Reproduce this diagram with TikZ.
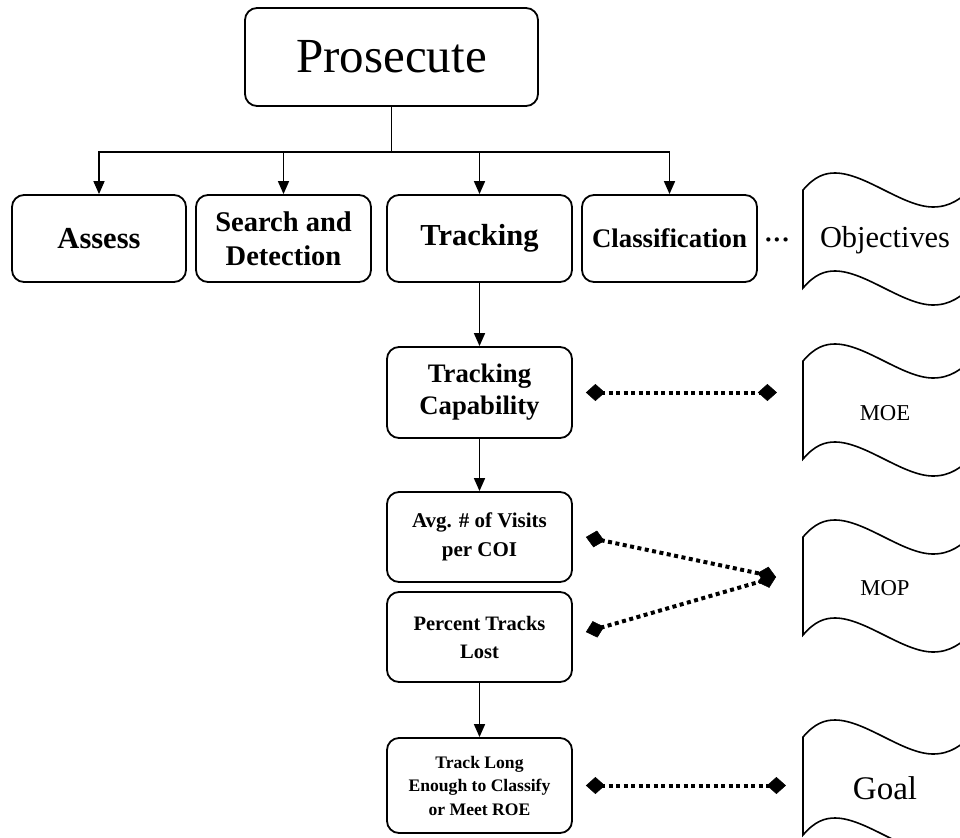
\documentclass[tikz,border=0pt]{standalone}
\usepackage{fontspec}
\setmainfont{Liberation Serif}
\usetikzlibrary{arrows.meta,calc}
\tikzset{
  box/.style={draw,line width=1.8pt,rounded corners=12pt,align=center,inner sep=0pt},
  arr/.style={line width=1.6pt,-{Triangle[length=13pt,width=11pt]}},
  ln/.style={line width=1.6pt},
  dotc/.style={line width=4pt,dash pattern=on 4pt off 3.5pt,
     {Diamond[length=19pt,width=17pt,line width=0.5pt]}-{Diamond[length=19pt,width=17pt,line width=0.5pt]}},
  tape/.pic={
    \draw[line width=1.6pt,fill=white] (0,0) .. controls (12,-14) and (22,-17) .. (32,-17)
      .. controls (62,-17) and (100,17) .. (130,17)
      .. controls (148,17) and (158,8) .. (170,-2) -- (170,96)
      .. controls (158,106) and (148,115) .. (130,115)
      .. controls (100,115) and (62,81) .. (32,81)
      .. controls (22,81) and (12,84) .. (0,98) -- cycle;
  }
}
\begin{document}
\begin{tikzpicture}[x=1pt,y=-1pt]
\useasboundingbox (0,0) rectangle (960,837);
\fill[white] (0,0) rectangle (960,837);

% tape shapes (clipped at the right/bottom edge)
\begin{scope}
\clip (0,0) rectangle (960,837);
\pic at (803,190) {tape};
\pic at (803,361) {tape};
\pic at (803,537) {tape};
\pic at (803,737) {tape};
\end{scope}

% top box
\node[box,minimum width=293pt,minimum height=98pt,font=\fontsize{49}{58}\selectfont] (P) at (391.5,57) {Prosecute};

% row
\node[box,minimum width=174pt,minimum height=87pt,font=\bfseries\fontsize{30.5}{36}\selectfont] (A) at (99,238.5) {Assess};
\node[box,minimum width=175pt,minimum height=87pt,font=\bfseries\fontsize{28.5}{34}\selectfont] (S) at (283.5,238.5) {Search and\\Detection};
\node[box,minimum width=185pt,minimum height=87pt,font=\bfseries\fontsize{30.5}{36}\selectfont] (T) at (479.5,238.5) {Tracking};
\node[box,minimum width=175pt,minimum height=87pt,font=\bfseries\fontsize{26.8}{32}\selectfont] (C) at (669.5,238.5) {Classification};
\node[font=\bfseries\fontsize{26}{30}\selectfont,inner sep=0pt] (dots) at (777,243) {···};

% column
\node[box,minimum width=185pt,minimum height=91pt,font=\bfseries\fontsize{26.7}{32}\selectfont] (TC) at (479.5,392.5) {Tracking\\Capability};
\node[box,minimum width=185pt,minimum height=90pt,font=\bfseries\fontsize{21}{28.5}\selectfont] (AV) at (479.5,537) {Avg. \# of Visits\\per COI};
\node[box,minimum width=185pt,minimum height=90pt,font=\bfseries\fontsize{20.5}{28}\selectfont] (PT) at (479.5,637) {Percent Tracks\\Lost};
\node[box,minimum width=185pt,minimum height=95pt,font=\bfseries\fontsize{17.6}{23.5}\selectfont] (TL) at (479.5,785.5) {Track Long\\Enough to Classify\\or Meet ROE};

% tape labels
\node[font=\fontsize{30.4}{36}\selectfont] (obj) at (885,240) {Objectives};
\node[font=\fontsize{22.7}{27}\selectfont] (moe) at (885,413) {MOE};
\node[font=\fontsize{22.7}{27}\selectfont] (mop) at (885,588) {MOP};
\node[font=\fontsize{33}{40}\selectfont] (goal) at (885,788) {Goal};

% tree connectors
\coordinate (bus) at (391.5,152);
\draw[ln] (P.south) -- (bus);
\draw[arr] (bus) -| (A.north);
\draw[arr] (bus) -| (S.north);
\draw[arr] (bus) -| (T.north);
\draw[arr] (bus) -| (C.north);
\draw[arr] (T.south) -- (TC.north);
\draw[arr] (TC.south) -- (AV.north);
\draw[arr] (PT.south) -- (TL.north);

% dotted diamond connectors
\coordinate (tcL) at ([xshift=13pt]TC.east);
\path (tcL) ++(191,0) coordinate (tcR);
\draw[dotc] (tcL) -- (tcR);
\coordinate (avL) at ([xshift=13pt]AV.east);
\coordinate (ptL) at ([xshift=13pt,yshift=5pt]PT.east);
\coordinate (mopR) at (776,577);
\draw[dotc] (avL) -- (mopR);
\draw[dotc] (ptL) -- (mopR);
\coordinate (tlL) at ([xshift=13pt]TL.east);
\path (tlL) ++(200,0) coordinate (tlR);
\draw[dotc] (tlL) -- (tlR);
\end{tikzpicture}
\end{document}
